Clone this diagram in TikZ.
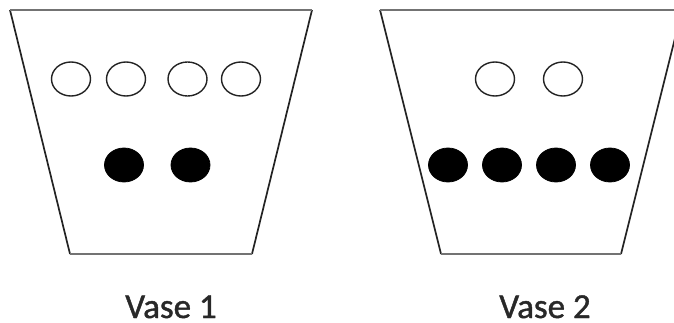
\documentclass[tikz,border=0pt]{standalone}
\usepackage{fontspec}
\setmainfont{Carlito}
\newfontfamily\vasefont[FakeBold=1.2]{Carlito}
\usetikzlibrary{shapes.geometric}
\definecolor{rimgray}{RGB}{115,115,115}
\definecolor{sidegray}{RGB}{35,35,35}
\definecolor{textgray}{RGB}{40,40,40}
\tikzset{
  rim/.style={draw=rimgray, line width=2.6pt},
  side/.style={draw=sidegray, line width=1.7pt},
  openball/.style={ellipse, draw=sidegray, line width=1.4pt, minimum width=39pt, minimum height=34pt, inner sep=0pt},
  fullball/.style={ellipse, fill=black, draw=black, line width=0.8pt, minimum width=39pt, minimum height=34pt, inner sep=0pt},
  label/.style={font=\vasefont\fontsize{35}{38}\selectfont, text=textgray, anchor=base, inner sep=0pt}
}
\begin{document}
\begin{tikzpicture}[x=1pt,y=-1pt]
\useasboundingbox (0,0) rectangle (674,323);
\clip (0,0) rectangle (674,323);
% Vase 1
\coordinate (a1) at (10,10);
\coordinate (b1) at (312,10);
\coordinate (c1) at (252,254);
\coordinate (d1) at (70,254);
\draw[side] (a1) -- (d1);
\draw[side] (b1) -- (c1);
\draw[rim] (a1) -- (b1);
\draw[rim] (d1) -- (c1);
\node[openball] (o11) at (71,79) {};
\node[openball] (o12) at (126,79) {};
\node[openball] (o13) at (187.5,79) {};
\node[openball] (o14) at (241,79) {};
\node[fullball] (f11) at (124,165) {};
\node[fullball] (f12) at (190.5,165) {};
\node[label] (t1) at (171,318) {Vase 1};
% Vase 2
\coordinate (a2) at (380,10);
\coordinate (b2) at (682,10);
\coordinate (c2) at (621,254);
\coordinate (d2) at (441,254);
\draw[side] (a2) -- (d2);
\draw[side] (b2) -- (c2);
\draw[rim] (a2) -- (b2);
\draw[rim] (d2) -- (c2);
\node[openball] (o21) at (495,79) {};
\node[openball] (o22) at (563,79) {};
\node[fullball] (f21) at (448,165) {};
\node[fullball] (f22) at (502,165) {};
\node[fullball] (f23) at (556,165) {};
\node[fullball] (f24) at (610,165) {};
\node[label] (t2) at (545,318) {Vase 2};
\end{tikzpicture}
\end{document}
